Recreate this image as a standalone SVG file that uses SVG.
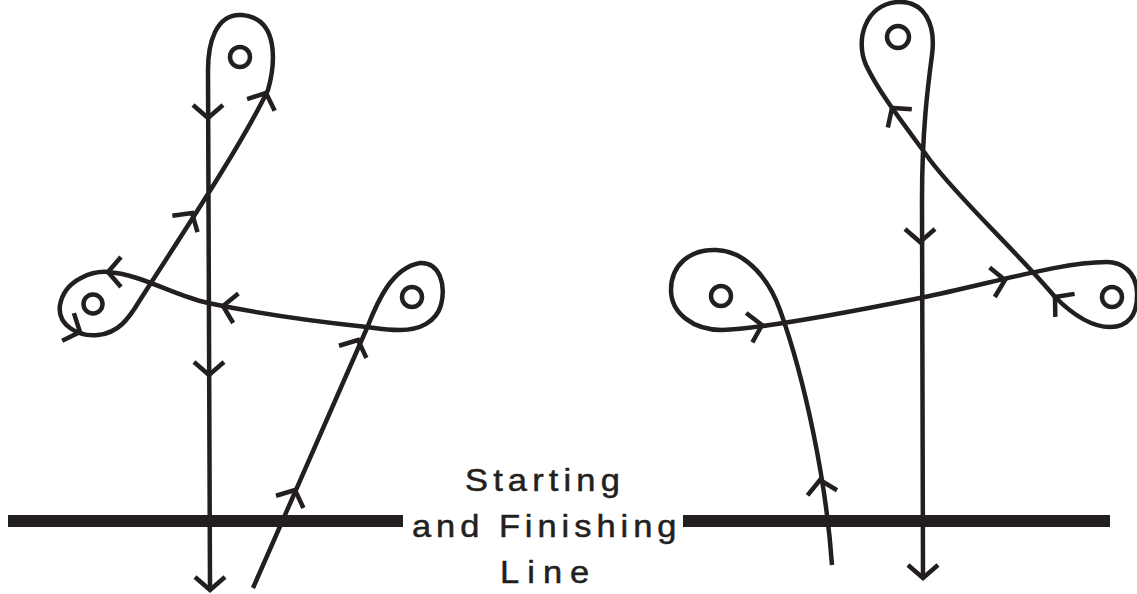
<svg xmlns="http://www.w3.org/2000/svg" xmlns:xlink="http://www.w3.org/1999/xlink" width="1137" height="594" viewBox="0 0 1137 594">
<style>
.crs{fill:none;stroke:#231f20;stroke-width:4.5;stroke-linejoin:round;stroke-linecap:butt}
.mark{fill:none;stroke:#231f20;stroke-width:4.5}
.bar{fill:#231f20}
.lbl{font-family:"Liberation Sans",Arial,sans-serif;font-size:30.5px;fill:#231f20;stroke:#231f20;stroke-width:0.5}
</style>
<defs>
<path id="chev" d="M-13,-15 L0,0 L-13,15" fill="none" stroke="#231f20" stroke-width="4.5" stroke-linejoin="miter"/>
</defs>
<rect width="1137" height="594" fill="#fff"/>
<g id="start-finish-line">
<rect class="bar" x="8" y="515" width="395" height="12"/>
<rect class="bar" x="683" y="515" width="427" height="12"/>
</g>
<g id="label">
<text class="lbl" transform="translate(465,491) scale(1.13,1)" x="0" y="0" textLength="137" lengthAdjust="spacing">Starting</text>
<text class="lbl" transform="translate(412,537) scale(1.13,1)" x="0" y="0" textLength="234" lengthAdjust="spacing">and Finishing</text>
<text class="lbl" transform="translate(500,583) scale(1.13,1)" x="0" y="0" textLength="79" lengthAdjust="spacing">Line</text>
</g>
<g id="marks-left">
<circle class="mark" cx="240" cy="57" r="10"/>
<circle class="mark" cx="93" cy="304" r="9.5"/>
<circle class="mark" cx="412" cy="297" r="10"/>
</g>
<g id="marks-right">
<circle class="mark" cx="898" cy="37" r="11"/>
<circle class="mark" cx="721" cy="296" r="10"/>
<circle class="mark" cx="1112" cy="297" r="10"/>
</g>
<g id="connectors">
<g id="course-left">
<path class="crs" d="M253,588 L367,328 C378,300 392,268 420,263 C440,262 446,285 441,305 C436,322 420,330 400,330 C385,330 375,328 367,327 C320,322 260,314 208,303 C175,296 140,274 108,272 C95,271 65,278 60,305 C57,325 78,337 98,335 C118,333 128,320 140,300 C175,245 240,148 268,90 C275,65 280,18 242,15 C215,13 208,45 208,70 L210,590"/>
<use xlink:href="#chev" transform="translate(295,490) rotate(-66)"/>
<use xlink:href="#chev" transform="translate(358,340) rotate(-66)"/>
<use xlink:href="#chev" transform="translate(223,306) rotate(190)"/>
<use xlink:href="#chev" transform="translate(108,272) rotate(180)"/>
<use xlink:href="#chev" transform="translate(80,332) rotate(23)"/>
<use xlink:href="#chev" transform="translate(192,213) rotate(-57)"/>
<use xlink:href="#chev" transform="translate(266,93) rotate(-67)"/>
<use xlink:href="#chev" transform="translate(208,118) rotate(90)"/>
<use xlink:href="#chev" transform="translate(209,375) rotate(90)"/>
<use xlink:href="#chev" transform="translate(210,590) rotate(90)"/>
</g>
<g id="course-right">
<path class="crs" d="M832,565 C826,480 805,380 780,310 C770,282 748,251 716,250 C690,249 671,265 671,290 C671,313 693,330 722,330 C760,329 850,312 920,298 C990,284 1060,262 1107,262 C1122,262 1136,272 1137,292 C1138,315 1128,327 1110,327 C1090,327 1070,312 1055,297 C1020,255 960,200 930,160 C910,132 880,95 866,65 C855,40 865,5 897,2 C925,0 936,25 932,55 C928,85 922,130 922,200 L923,578"/>
<use xlink:href="#chev" transform="translate(820,480) rotate(-100)"/>
<use xlink:href="#chev" transform="translate(762,325) rotate(-12)"/>
<use xlink:href="#chev" transform="translate(1005,280) rotate(-10)"/>
<use xlink:href="#chev" transform="translate(1055,297) rotate(-140)"/>
<use xlink:href="#chev" transform="translate(892,108) rotate(-127)"/>
<use xlink:href="#chev" transform="translate(920,242) rotate(90)"/>
<use xlink:href="#chev" transform="translate(923,578) rotate(90)"/>
</g>
</g>
</svg>
